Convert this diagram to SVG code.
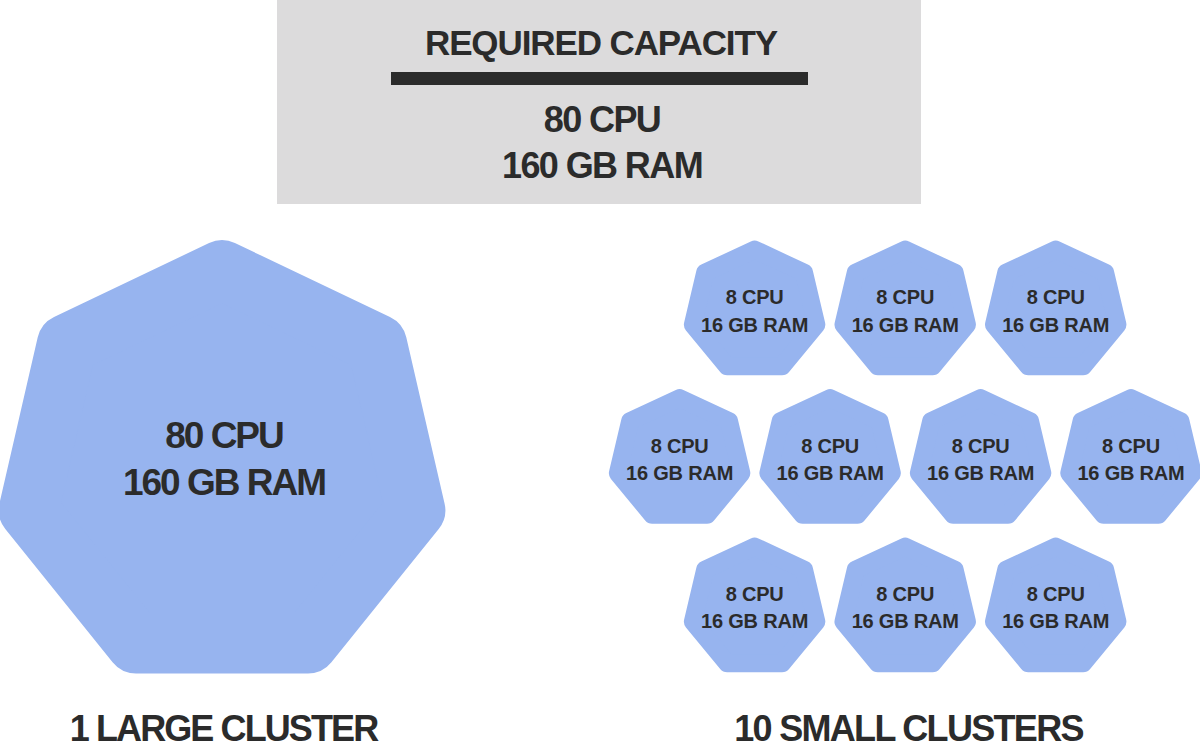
<svg xmlns="http://www.w3.org/2000/svg" xmlns:xlink="http://www.w3.org/1999/xlink" width="1200" height="749" viewBox="0 0 1200 749">
  <style>
    .hex { fill: #97b4ef; stroke: #97b4ef; stroke-linejoin: round; }
    .t { font-family: "Liberation Sans", Arial, sans-serif; font-weight: bold; fill: #2b2b2b; text-anchor: middle; }
    .big { font-size: 36px; letter-spacing: -1.6px; }
    .sm { font-size: 20px; letter-spacing: -0.2px; }
  </style>
  <defs>
    <polygon id="smallHex" class="hex" stroke-width="18" points="0,-61.4 49.49,-38.28 61.71,13.66 27.46,55.32 -27.46,55.32 -61.71,13.66 -49.49,-38.28"/>
    <polygon id="largeHex" class="hex" stroke-width="60" points="0,-196.4 155.04,-122.45 193.33,43.7 86.04,176.95 -86.04,176.95 -193.33,43.7 -155.04,-122.45"/>
  </defs>
  <rect width="1200" height="749" fill="#ffffff"/>

  <g id="required-capacity">
    <rect x="277" y="0" width="644" height="204" fill="#dcdbdc"/>
    <text class="t" x="601" y="55" style="font-size:35px;letter-spacing:-1.1px">REQUIRED CAPACITY</text>
    <rect x="391" y="72" width="417" height="13" fill="#2b2b2b"/>
    <text class="t big" x="602" y="132">80 CPU</text>
    <text class="t big" x="602" y="178">160 GB RAM</text>
  </g>

  <g id="large-cluster">
    <use xlink:href="#largeHex" x="222" y="466.5"/>
    <text class="t" x="224" y="448" style="font-size:37px;letter-spacing:-2px">80 CPU</text>
    <text class="t" x="224" y="495" style="font-size:37px;letter-spacing:-2px">160 GB RAM</text>
  </g>

  <g id="small-1">
    <use xlink:href="#smallHex" x="754.6" y="311"/>
    <text class="t sm" x="754.6" y="303.5">8 CPU</text>
    <text class="t sm" x="754.6" y="331.5">16 GB RAM</text>
  </g>
  <g id="small-2">
    <use xlink:href="#smallHex" x="905.2" y="311"/>
    <text class="t sm" x="905.2" y="303.5">8 CPU</text>
    <text class="t sm" x="905.2" y="331.5">16 GB RAM</text>
  </g>
  <g id="small-3">
    <use xlink:href="#smallHex" x="1055.7" y="311"/>
    <text class="t sm" x="1055.7" y="303.5">8 CPU</text>
    <text class="t sm" x="1055.7" y="331.5">16 GB RAM</text>
  </g>
  <g id="small-4">
    <use xlink:href="#smallHex" x="679.6" y="459.5"/>
    <text class="t sm" x="679.6" y="452.5">8 CPU</text>
    <text class="t sm" x="679.6" y="480">16 GB RAM</text>
  </g>
  <g id="small-5">
    <use xlink:href="#smallHex" x="830.1" y="459.5"/>
    <text class="t sm" x="830.1" y="452.5">8 CPU</text>
    <text class="t sm" x="830.1" y="480">16 GB RAM</text>
  </g>
  <g id="small-6">
    <use xlink:href="#smallHex" x="980.6" y="459.5"/>
    <text class="t sm" x="980.6" y="452.5">8 CPU</text>
    <text class="t sm" x="980.6" y="480">16 GB RAM</text>
  </g>
  <g id="small-7">
    <use xlink:href="#smallHex" x="1131" y="459.5"/>
    <text class="t sm" x="1131" y="452.5">8 CPU</text>
    <text class="t sm" x="1131" y="480">16 GB RAM</text>
  </g>
  <g id="small-8">
    <use xlink:href="#smallHex" x="754.6" y="608"/>
    <text class="t sm" x="754.6" y="600.5">8 CPU</text>
    <text class="t sm" x="754.6" y="628">16 GB RAM</text>
  </g>
  <g id="small-9">
    <use xlink:href="#smallHex" x="905.2" y="608"/>
    <text class="t sm" x="905.2" y="600.5">8 CPU</text>
    <text class="t sm" x="905.2" y="628">16 GB RAM</text>
  </g>
  <g id="small-10">
    <use xlink:href="#smallHex" x="1055.7" y="608"/>
    <text class="t sm" x="1055.7" y="600.5">8 CPU</text>
    <text class="t sm" x="1055.7" y="628">16 GB RAM</text>
  </g>

  <g id="labels">
    <text class="t" x="223.5" y="741" style="font-size:36px;letter-spacing:-1.9px">1 LARGE CLUSTER</text>
    <text class="t" x="908.5" y="741" style="font-size:36px;letter-spacing:-1.7px">10 SMALL CLUSTERS</text>
  </g>
</svg>
